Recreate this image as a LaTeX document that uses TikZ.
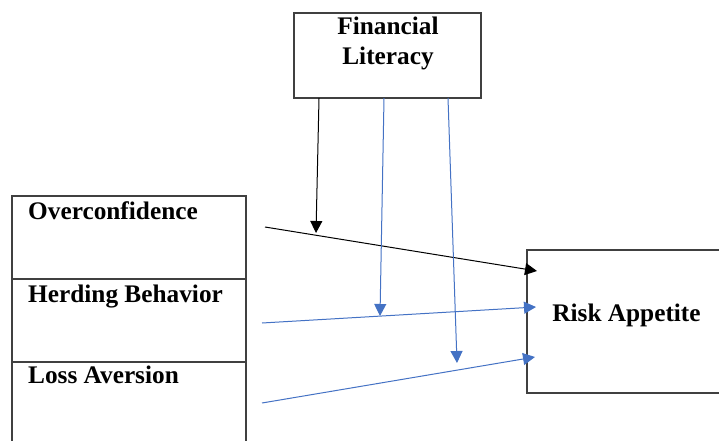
\documentclass[tikz,border=0pt]{standalone}
\usepackage{fontspec}
\setmainfont{Liberation Serif}
\usepackage{tikz}
\usetikzlibrary{arrows.meta}

\definecolor{lineblue}{HTML}{4472C4}
\definecolor{boxgray}{HTML}{404040}

\begin{document}
\begin{tikzpicture}[x=1pt,y=-1pt,
    varbox/.style={draw=boxgray,line width=1.4pt,inner sep=0pt},
    lbl/.style={inner sep=0pt,font=\fontsize{25.3}{30}\selectfont\bfseries},
    tip/.style={-{Triangle[length=12pt,width=12pt]}},
    link/.style={tip,line width=1pt}]

\useasboundingbox (0,0) rectangle (719,441);
\clip (0,0) rectangle (719,441);

% Moderator
\node[varbox,minimum width=187pt,minimum height=85pt] (fl) at (387.5,55.5) {};
\node[lbl,anchor=base] (fl-lbl1) at (388,35) {Financial};
\node[lbl,anchor=base] (fl-lbl2) at (388,65) {Literacy};

% Independent variables
\node[varbox,minimum width=234pt,minimum height=83pt] (oc) at (129,237.5) {};
\node[varbox,minimum width=234pt,minimum height=83pt] (hb) at (129,320.5) {};
\node[varbox,minimum width=234pt,minimum height=83pt] (la) at (129,403.5) {};
\node[lbl,anchor=base west] (oc-lbl) at (28,219) {Overconfidence};
\node[lbl,anchor=base west] (hb-lbl) at (28,302) {Herding Behavior};
\node[lbl,anchor=base west] (la-lbl) at (28,383) {Loss Aversion};

% Dependent variable
\node[varbox,minimum width=200pt,minimum height=143pt] (ra) at (627,321.5) {};
\node[lbl,anchor=base] (ra-lbl) at (626.5,321) {Risk Appetite};

% Path end points
\coordinate (oc-out) at (265,227);
\coordinate (hb-out) at (262,323);
\coordinate (la-out) at (262,403);
\coordinate (ra-in1) at (537,271);
\coordinate (ra-in2) at (536,307);
\coordinate (ra-in3) at (535,357);
\coordinate (fl-out1) at (319,98);
\coordinate (fl-out2) at (384,98);
\coordinate (fl-out3) at (448,98);
\coordinate (mod1) at (316,233);
\coordinate (mod2) at (380,316);
\coordinate (mod3) at (457,363);

% Direct paths
\draw[link,black] (oc-out) -- (ra-in1);
\draw[link,lineblue] (hb-out) -- (ra-in2);
\draw[link,lineblue] (la-out) -- (ra-in3);

% Moderating paths
\draw[link,black] (fl-out1) -- (mod1);
\draw[link,lineblue] (fl-out2) -- (mod2);
\draw[link,lineblue] (fl-out3) -- (mod3);

\end{tikzpicture}
\end{document}
